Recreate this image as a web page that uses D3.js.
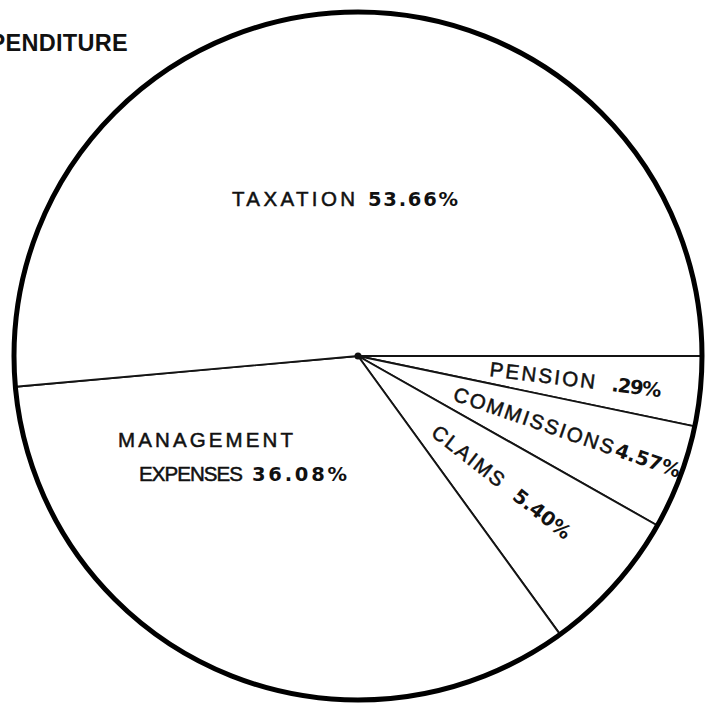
<!DOCTYPE html>
<html>
<head>
<meta charset="utf-8">
<script src="https://cdn.jsdelivr.net/npm/d3@7"></script>
<style>
  html, body { margin: 0; padding: 0; background: #fff; }
  svg { display: block; }
  text { font-family: "Liberation Sans", Arial, Helvetica, sans-serif; fill: #111; }
  text.pct { font-family: "DejaVu Sans", "Liberation Sans", Arial, sans-serif; font-weight: bold; }
</style>
</head>
<body>
<script>
// expenditure pie (old scanned figure, slices are not drawn to scale)

const categories = ['PENSION', 'COMMISSIONS', 'CLAIMS', 'MANAGEMENT EXPENSES', 'TAXATION'];
const percentText = ['.29%', '4.57%', '5.40%', '36.08%', '53.66%'];
// share of the circle each slice takes in the picture
const drawnShare = [3.28, 4.92, 6.81, 33.57, 51.43];
const titleText = 'EXPENDITURE';

const width = 706;
const height = 709;
const cx = 358, cy = 356, radius = 344;

// label placement: baseline start, rotation, widths of each word / the percent
const labelLayout = [
  { x: 489, y: 376, rot: 7, words: [{ dx: 0, dy: 0, w: 106 }], pct: { dx: 123, dy: 0, w: 50 } },
  { x: 452, y: 400, rot: 19, words: [{ dx: 0, dy: 0, w: 168 }], pct: { dx: 171, dy: 0, w: 68 } },
  { x: 430, y: 435, rot: 38, words: [{ dx: 0, dy: 0, w: 86 }], pct: { dx: 103, dy: 0, w: 68 } },
  { x: 118, y: 447, rot: 0, words: [{ dx: 0, dy: 0, w: 175 }, { dx: 21, dy: 34, w: 104 }], pct: { dx: 134, dy: 34, w: 95 } },
  { x: 232, y: 206, rot: 0, words: [{ dx: 0, dy: 0, w: 123 }], pct: { dx: 136, dy: 0, w: 90 } }
];

const svg = d3.select('body').append('svg')
  .attr('width', width)
  .attr('height', height);

const pie = d3.pie()
  .sort(null)
  .value(d => d)
  .startAngle(Math.PI / 2)
  .endAngle(Math.PI / 2 + 2 * Math.PI);

const arc = d3.arc()
  .innerRadius(0)
  .outerRadius(radius);

const g = svg.append('g')
  .attr('transform', `translate(${cx},${cy})`);

g.selectAll('path.slice')
  .data(pie(drawnShare))
  .enter()
  .append('path')
  .attr('class', 'slice')
  .attr('d', arc)
  .attr('fill', '#fff')
  .attr('stroke', '#141414')
  .attr('stroke-width', 1.9)
  .attr('stroke-linejoin', 'round');

// heavy outline
g.append('circle')
  .attr('r', radius)
  .attr('fill', 'none')
  .attr('stroke', '#000')
  .attr('stroke-width', 5);

// small dark blob where the spokes meet
g.append('circle')
  .attr('r', 3.5)
  .attr('fill', '#111');

// labels
categories.forEach((name, i) => {
  const lay = labelLayout[i];
  const lg = svg.append('g')
    .attr('transform', `translate(${lay.x},${lay.y}) rotate(${lay.rot})`);
  const words = name.split(' ');
  words.forEach((w, j) => {
    const p = lay.words[j];
    lg.append('text')
      .attr('x', p.dx)
      .attr('y', p.dy)
      .attr('font-size', 20.5)
      .attr('stroke', '#111')
      .attr('stroke-width', 0.5)
      .attr('textLength', p.w)
      .attr('lengthAdjust', 'spacing')
      .text(w);
  });
  lg.append('text')
    .attr('class', 'pct')
    .attr('x', lay.pct.dx)
    .attr('y', lay.pct.dy)
    .attr('font-size', 19.5)
    .attr('textLength', lay.pct.w)
    .attr('lengthAdjust', 'spacing')
    .text(percentText[i]);
});

// title, cut off at the left edge like the scan
svg.append('text')
  .attr('x', 128)
  .attr('y', 51)
  .attr('text-anchor', 'end')
  .attr('font-size', 23.5)
  .attr('font-weight', 'bold')
  .attr('letter-spacing', 0.3)
  .text(titleText);
</script>
</body>
</html>
